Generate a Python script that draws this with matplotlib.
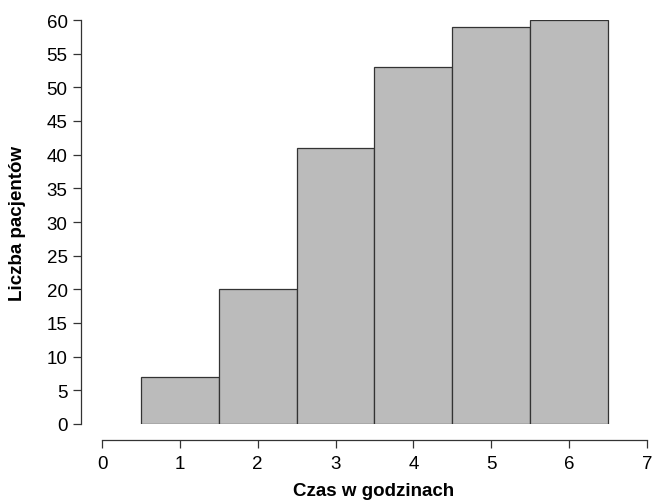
import matplotlib
matplotlib.use("Agg")
import matplotlib.pyplot as plt
import numpy as np

# hours and cumulative patient counts
hours = [1, 2, 3, 4, 5, 6]
patients = [7, 20, 41, 53, 59, 60]
xticks = [0, 1, 2, 3, 4, 5, 6, 7]
yticks = list(range(0, 61, 5))

plt.rcParams['font.family'] = ['Liberation Sans', 'DejaVu Sans']

W, H = 653, 502
fig = plt.figure(figsize=[W/100, H/100], dpi=100, facecolor='white')
ax = fig.add_axes([102/W, (H-425)/H, (647-102)/W, (425-21)/H])

ax.bar(hours, patients, width=1.0, color='#bbbbbb', edgecolor='#333333', linewidth=0.9)

ax.set_xlim(0, 7)
ax.set_ylim(0, 60)
ax.set_xticks(xticks)
ax.set_yticks(yticks)

for s in ['top', 'right']:
    ax.spines[s].set_visible(False)
ax.spines['left'].set_position(('outward', 21*0.72))
ax.spines['bottom'].set_position(('outward', 16*0.72))
ax.spines['left'].set_bounds(0, 60)
ax.spines['bottom'].set_bounds(0, 7)
for s in ['left', 'bottom']:
    ax.spines[s].set_color('#333333')
    ax.spines[s].set_linewidth(0.9)

ax.tick_params(axis='both', direction='out', length=5.6, width=0.9, color='#333333',
               labelsize=13.5, pad=4)
ax.tick_params(axis='x', pad=5.5)

fig.text(18/W, 1-223/H, 'Liczba pacjentów', rotation=90, ha='center', va='center',
         fontsize=13.5, fontweight='bold')
fig.text(374/W, 1-492/H, 'Czas w godzinach', ha='center', va='center',
         fontsize=13.5, fontweight='bold')

fig.savefig('out.png', dpi=100)
